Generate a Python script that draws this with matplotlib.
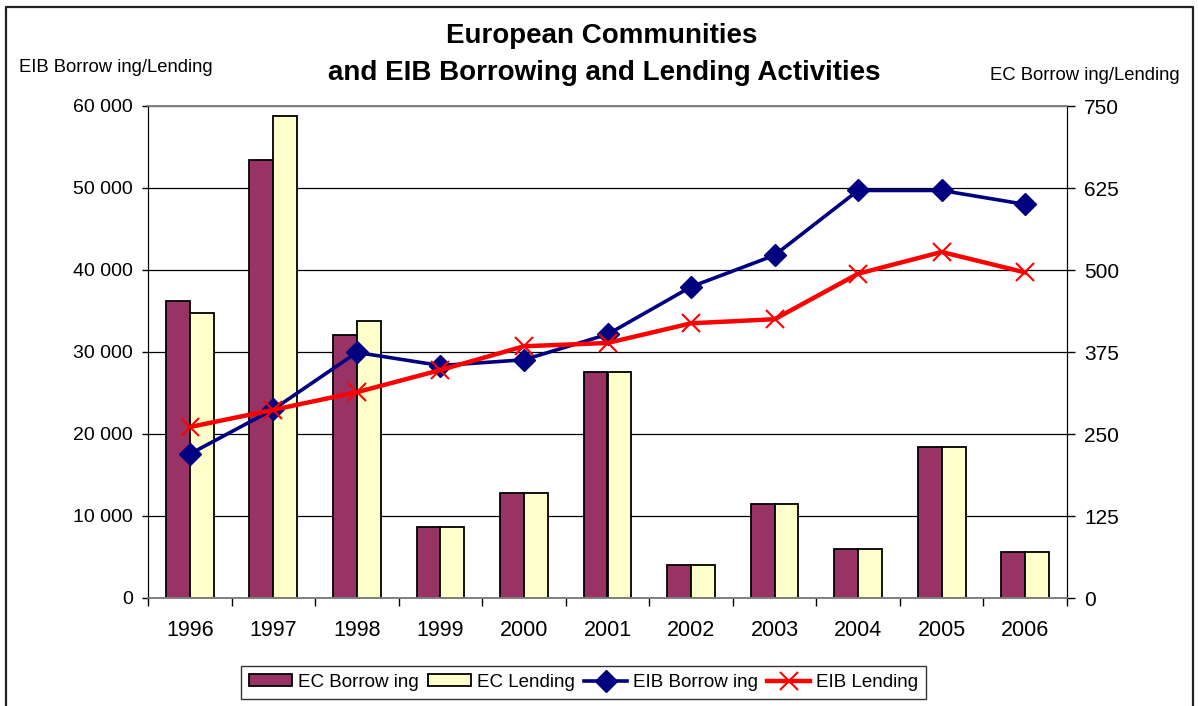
import numpy as np
import matplotlib
matplotlib.use("Agg")
import matplotlib.pyplot as plt
from matplotlib.ticker import FuncFormatter, FixedLocator
from matplotlib.lines import Line2D

plt.rcParams['font.family'] = ['Liberation Sans', 'DejaVu Sans']

years = ['1996', '1997', '1998', '1999', '2000', '2001', '2002', '2003', '2004', '2005', '2006']
ec_borrowing = [453, 667, 401, 108, 160, 344, 51, 143, 75, 230, 70]
ec_lending = [434, 735, 423, 108, 160, 344, 51, 143, 75, 230, 70]
eib_borrowing = [17560, 23000, 29950, 28350, 29050, 32150, 37950, 41800, 49700, 49700, 48000]
eib_lending = [20850, 22950, 25100, 27800, 30700, 31100, 33500, 34000, 39550, 42200, 39700]

left_ticks = [0, 10000, 20000, 30000, 40000, 50000, 60000]
right_ticks = [0, 125, 250, 375, 500, 625, 750]

W, H = 1198, 706
fig = plt.figure(figsize=(W / 100, H / 100), dpi=100)
ax = fig.add_axes([148 / W, 1 - 598 / H, (1067 - 148) / W, (598 - 106) / H])
ax2 = ax.twinx()

x = np.arange(len(years))
bw = 1 / 3.5

# bars on right (EC) axis, behind
ax2.bar(x - bw / 2, ec_borrowing, bw, color='#993366', edgecolor='black', linewidth=1.3, zorder=2, label='EC Borrow ing')
ax2.bar(x + bw / 2, ec_lending, bw, color='#FFFFCC', edgecolor='black', linewidth=1.3, zorder=2, label='EC Lending')
ax2.set_ylim(0, 750)
ax2.yaxis.set_major_locator(FixedLocator(right_ticks))
ax2.set_axisbelow(True)
ax2.grid(axis='y', color='black', linewidth=0.9, zorder=0)

# lines on left (EIB) axis, on top
ax.set_zorder(ax2.get_zorder() + 1)
ax.patch.set_visible(False)
ax.plot(x, eib_borrowing, color='#000080', linewidth=2.6, marker='D', markersize=11.5,
        markerfacecolor='#000080', markeredgecolor='#000080', label='EIB Borrow ing', zorder=3)
ax.plot(x, eib_lending, color='#FF0000', linewidth=3.2, marker='x', markersize=13,
        markeredgewidth=1.5, label='EIB Lending', zorder=4)
ax.set_ylim(0, 60000)
ax.yaxis.set_major_locator(FixedLocator(left_ticks))
ax.yaxis.set_major_formatter(FuncFormatter(lambda v, p: f"{int(v):,}".replace(',', ' ')))

ax.set_xlim(-0.5, len(years) - 0.5)
for a in (ax, ax2):
    a.set_xticks(x)
    a.set_xticks(np.arange(-0.5, len(years), 1.0), minor=True)
    a.tick_params(axis='x', which='major', length=0, pad=16, labelsize=15.5)
    a.tick_params(axis='x', which='minor', length=5.5, width=1, direction='out', color='black')
ax.set_xticklabels(years)
ax2.tick_params(axis='x', labelbottom=False)

ax.tick_params(axis='y', which='major', length=4, width=1, pad=7, labelsize=14, direction='out')
ax2.tick_params(axis='y', which='major', length=5.5, width=1, pad=7, labelsize=15, direction='out')

for a in (ax, ax2):
    a.spines['top'].set_color('#808080')
    a.spines['top'].set_linewidth(1.2)
    a.spines['bottom'].set_color('#808080')
    a.spines['bottom'].set_linewidth(1.2)
    a.spines['left'].set_color('black')
    a.spines['right'].set_color('black')

# titles and axis captions
fig.text(0.502, 1 - 43 / H, 'European Communities', ha='center', va='baseline', fontsize=20, fontweight='bold')
fig.text(0.504, 1 - 80 / H, 'and EIB Borrowing and Lending Activities', ha='center', va='baseline', fontsize=20, fontweight='bold')
fig.text(19 / W, 1 - 72 / H, 'EIB Borrow ing/Lending', ha='left', va='baseline', fontsize=13.3)
fig.text(1180 / W, 1 - 80 / H, 'EC Borrow ing/Lending', ha='right', va='baseline', fontsize=13.3)

# legend
h1, l1 = ax2.get_legend_handles_labels()
h2, l2 = ax.get_legend_handles_labels()
leg = fig.legend(h1 + h2, l1 + l2, loc='center', bbox_to_anchor=(583.5 / W, 1 - 682.5 / H),
                 ncol=4, fontsize=13.5, frameon=True, fancybox=False, shadow=False,
                 handlelength=2.3, handleheight=0.6, handletextpad=0.3, columnspacing=0.5,
                 borderpad=0.45, borderaxespad=0)
leg.get_frame().set_edgecolor('black')
leg.get_frame().set_linewidth(1.0)

# outer chart border (left, top, right)
bx0, bx1, by0 = 6 / W, 1193 / W, 1 - 7 / H
fig.add_artist(Line2D([bx0, bx0, bx1, bx1], [0, by0, by0, 0], transform=fig.transFigure,
                      color='#222222', linewidth=1.6))

fig.savefig('out.png', dpi=100)
